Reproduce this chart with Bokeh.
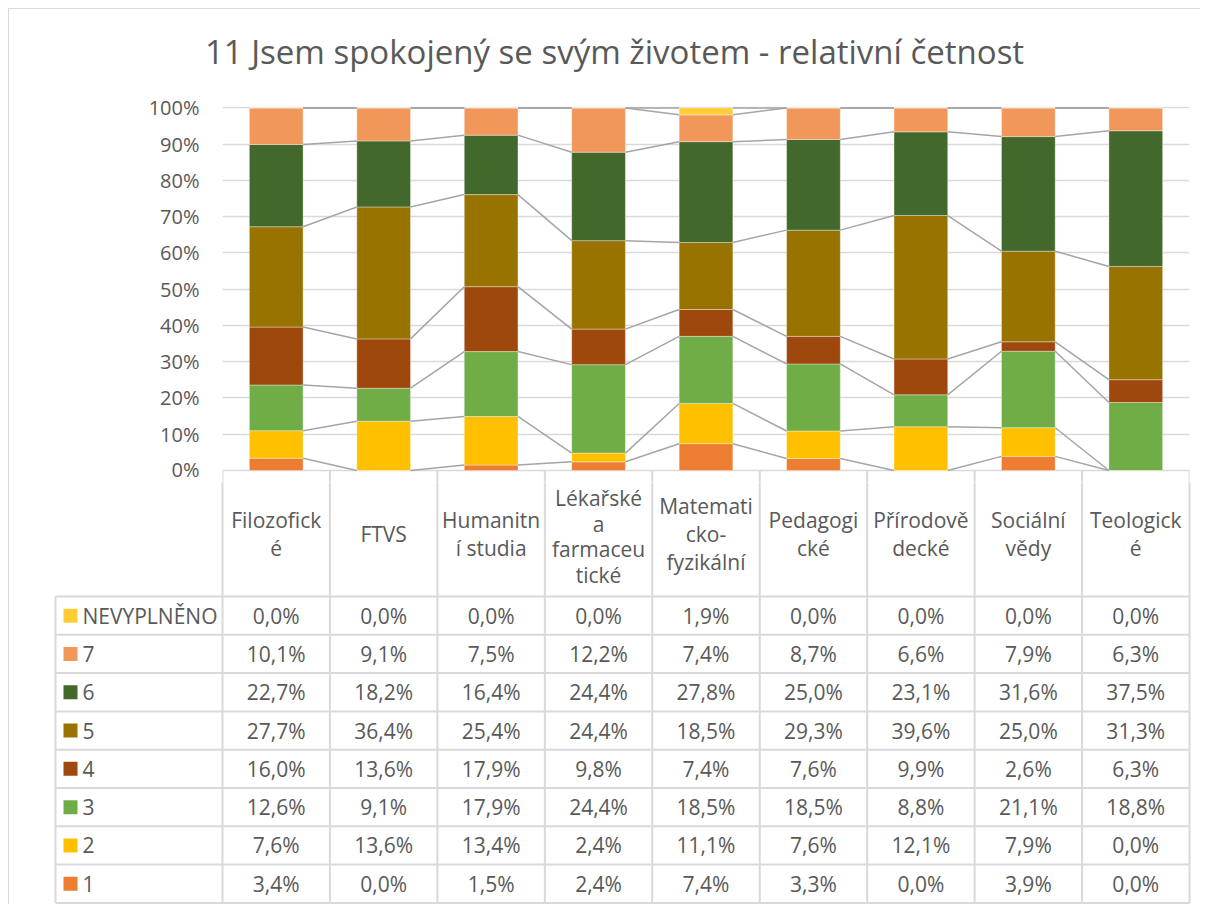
from bokeh.plotting import figure
from bokeh.models import Range1d, FixedTicker, PrintfTickFormatter, ColumnDataSource
from bokeh.layouts import column
from bokeh.embed import file_html
from bokeh.resources import INLINE
from bokeh.core.properties import value

# ---------------- data ----------------
title_text = "11 Jsem spokojený se svým životem - relativní četnost"
categories = ["Filozofické", "FTVS", "Humanitní studia", "Lékařské a farmaceutické",
              "Matematicko-fyzikální", "Pedagogické", "Přírodovědecké", "Sociální vědy", "Teologické"]
header_labels = ["Filozofick\né", "FTVS", "Humanitn\ní studia", "Lékařské\na\nfarmaceu\ntické",
                 "Matemati\ncko-\nfyzikální", "Pedagogi\ncké", "Přírodově\ndecké", "Sociální\nvědy",
                 "Teologick\né"]
series_names = ["NEVYPLNĚNO", "7", "6", "5", "4", "3", "2", "1"]   # table order (top to bottom)
nevyplneno = [0.0, 0.0, 0.0, 0.0, 1.9, 0.0, 0.0, 0.0, 0.0]
s7 = [10.1, 9.1, 7.5, 12.2, 7.4, 8.7, 6.6, 7.9, 6.3]
s6 = [22.7, 18.2, 16.4, 24.4, 27.8, 25.0, 23.1, 31.6, 37.5]
s5 = [27.7, 36.4, 25.4, 24.4, 18.5, 29.3, 39.6, 25.0, 31.3]
s4 = [16.0, 13.6, 17.9, 9.8, 7.4, 7.6, 9.9, 2.6, 6.3]
s3 = [12.6, 9.1, 17.9, 24.4, 18.5, 18.5, 8.8, 21.1, 18.8]
s2 = [7.6, 13.6, 13.4, 2.4, 11.1, 7.6, 12.1, 7.9, 0.0]
s1 = [3.4, 0.0, 1.5, 2.4, 7.4, 3.3, 0.0, 3.9, 0.0]
series_values = [nevyplneno, s7, s6, s5, s4, s3, s2, s1]
colors = ["#FFCD33", "#F1975A", "#43682B", "#997300", "#9E480E", "#70AD47", "#FFC000", "#ED7D31"]
y_ticks = [0, 10, 20, 30, 40, 50, 60, 70, 80, 90, 100]

# ---------------- styling / layout constants ----------------
TXT = "#595959"
GRID = "#D9D9D9"
FONT = "Open Sans"
OX, OY = 9, 9                      # page position of the content (after CSS margin+border)
W = 1200 - OX
COLW = (1189 - 222) / 9.0          # pixel width of one category
def px2x(px):
    return (px - 222) / COLW

def no_align(fig):
    try:
        fig.frame_align = False
    except Exception:
        pass

n = len(categories)
centers = [i + 0.5 for i in range(n)]
totals = [sum(sv[i] for sv in series_values) for i in range(n)]

# ---------------- title strip ----------------
TITLE_BOTTOM = 90
tt = figure(width=W, height=TITLE_BOTTOM - OY, x_range=Range1d(OX, 1200), y_range=Range1d(TITLE_BOTTOM, OY),
            x_axis_location=None, y_axis_location=None, output_backend="svg", toolbar_location=None,
            min_border_left=0, min_border_right=0, min_border_top=0, min_border_bottom=0,
            outline_line_color=None, background_fill_color="white", border_fill_color="white")
tt.grid.visible = False
no_align(tt)
tt.text(x=[614], y=[51], text=[title_text], text_align="center", text_baseline="middle",
        text_font=value(FONT), text_font_size="33px", text_color=TXT)

# ---------------- chart ----------------
Y_MIN = -3.31
CHART_BOTTOM = 482
p = figure(width=W, height=CHART_BOTTOM - TITLE_BOTTOM, x_range=Range1d(0, 9),
           y_range=Range1d(Y_MIN, 100.4),
           x_axis_location=None, output_backend="svg", toolbar_location=None,
           min_border_left=222 - OX, min_border_right=1200 - 1189, min_border_top=16, min_border_bottom=0,
           outline_line_color=None, background_fill_color="white", border_fill_color="white")
no_align(p)
p.xgrid.visible = False
p.ygrid.grid_line_color = GRID
p.ygrid.grid_line_width = 1.5
p.yaxis.ticker = FixedTicker(ticks=y_ticks)
p.ygrid.ticker = FixedTicker(ticks=y_ticks)
p.yaxis.formatter = PrintfTickFormatter(format="%d%%")
p.yaxis.axis_line_color = None
p.yaxis.major_tick_line_color = None
p.yaxis.minor_tick_line_color = None
p.yaxis.major_tick_out = 0
p.yaxis.major_tick_in = 0
p.yaxis.major_label_standoff = 23
p.yaxis.major_label_text_font = FONT
p.yaxis.major_label_text_font_size = "20px"
p.yaxis.major_label_text_color = TXT

# top ends of the data-table column dividers (continue below in the table figure)
vx = list(range(n + 1))
p.segment(x0=vx, y0=[0] * len(vx), x1=vx, y1=[Y_MIN] * len(vx), line_color=GRID, line_width=2)

# stack from bottom: 1, 2, 3, ... NEVYPLNĚNO
cum = [0.0] * n
tops_by_series = []
for name, vals, col in reversed(list(zip(series_names, series_values, colors))):
    bottoms = [cum[i] / totals[i] * 100 for i in range(n)]
    cum = [cum[i] + vals[i] for i in range(n)]
    tops = [cum[i] / totals[i] * 100 for i in range(n)]
    tops_by_series.append(tops)
    src = ColumnDataSource(dict(x=centers, bottom=bottoms, top=tops))
    p.vbar(x="x", bottom="bottom", top="top", width=0.5, source=src,
           fill_color=col, line_color="white", line_alpha=0.45, line_width=0.8)

# series lines
for tops in tops_by_series:
    p.segment(x0=[c + 0.25 for c in centers[:-1]], y0=tops[:-1],
              x1=[c - 0.25 for c in centers[1:]], y1=tops[1:],
              line_color="#A5A5A5", line_width=1.5)

# ---------------- data table ----------------
HEADER_H = 126.0
ROW_H = 38.3
table_bottom = HEADER_H + len(series_names) * ROW_H
x_left = px2x(55)
PAGE_BOTTOM = 904
ZERO_Y = 470                        # page y of the table's top edge (0 %)

t = figure(width=W, height=PAGE_BOTTOM - CHART_BOTTOM, x_range=Range1d(px2x(OX), px2x(1200)),
           y_range=Range1d(PAGE_BOTTOM - ZERO_Y, CHART_BOTTOM - ZERO_Y),
           x_axis_location=None, y_axis_location=None, output_backend="svg", toolbar_location=None,
           min_border_left=0, min_border_right=0, min_border_top=0, min_border_bottom=0,
           outline_line_color=None, background_fill_color="white", border_fill_color="white")
no_align(t)
t.grid.visible = False

# vertical lines
t.segment(x0=vx, y0=[0] * len(vx), x1=vx, y1=[table_bottom] * len(vx),
          line_color=GRID, line_width=2)
t.segment(x0=[x_left], y0=[HEADER_H], x1=[x_left], y1=[table_bottom], line_color=GRID, line_width=2)
# horizontal lines
hy = [HEADER_H + r * ROW_H for r in range(len(series_names) + 1)]
t.segment(x0=[x_left] * len(hy), y0=hy, x1=[n] * len(hy), y1=hy, line_color=GRID, line_width=2)

# header labels (tall 4-line labels slightly tighter so they stay inside the cell)
groups = {}
for i, lab in enumerate(header_labels):
    groups.setdefault(lab.count("\n") + 1, []).append(i)
for nl, idx in groups.items():
    lh, cy = (1.0, HEADER_H / 2) if nl < 4 else (0.92, HEADER_H / 2 + 3)
    t.text(x=[centers[i] for i in idx], y=[cy] * len(idx), text=[header_labels[i] for i in idx],
           text_align="center", text_baseline="middle", text_font=value(FONT),
           text_font_size="21px", text_color=TXT, text_line_height=lh)

row_centers = [HEADER_H + (r + 0.5) * ROW_H for r in range(len(series_names))]
# legend keys
t.scatter(x=[px2x(70)] * len(series_names), y=row_centers, marker="square", size=14,
          fill_color=colors, line_color=None)
t.text(x=[px2x(82)] * len(series_names), y=row_centers, text=series_names, text_align="left",
       text_baseline="middle", text_font=value(FONT), text_font_size="21px", text_color=TXT)

# values
vx_, vy_, vt_ = [], [], []
for r, vals in enumerate(series_values):
    for i, v in enumerate(vals):
        vx_.append(centers[i])
        vy_.append(row_centers[r])
        vt_.append(f"{v:.1f}".replace(".", ",") + "%")
t.text(x=vx_, y=vy_, text=vt_, text_align="center", text_baseline="middle",
       text_font=value(FONT), text_font_size="21px", text_color=TXT)

layout = column(tt, p, t, spacing=0,
                styles={"margin-left": "8px", "margin-top": "8px",
                        "border-top": "1px solid #D9D9D9", "border-left": "1px solid #D9D9D9"})

open("out.html", "w").write(file_html(layout, INLINE, title="chart"))
